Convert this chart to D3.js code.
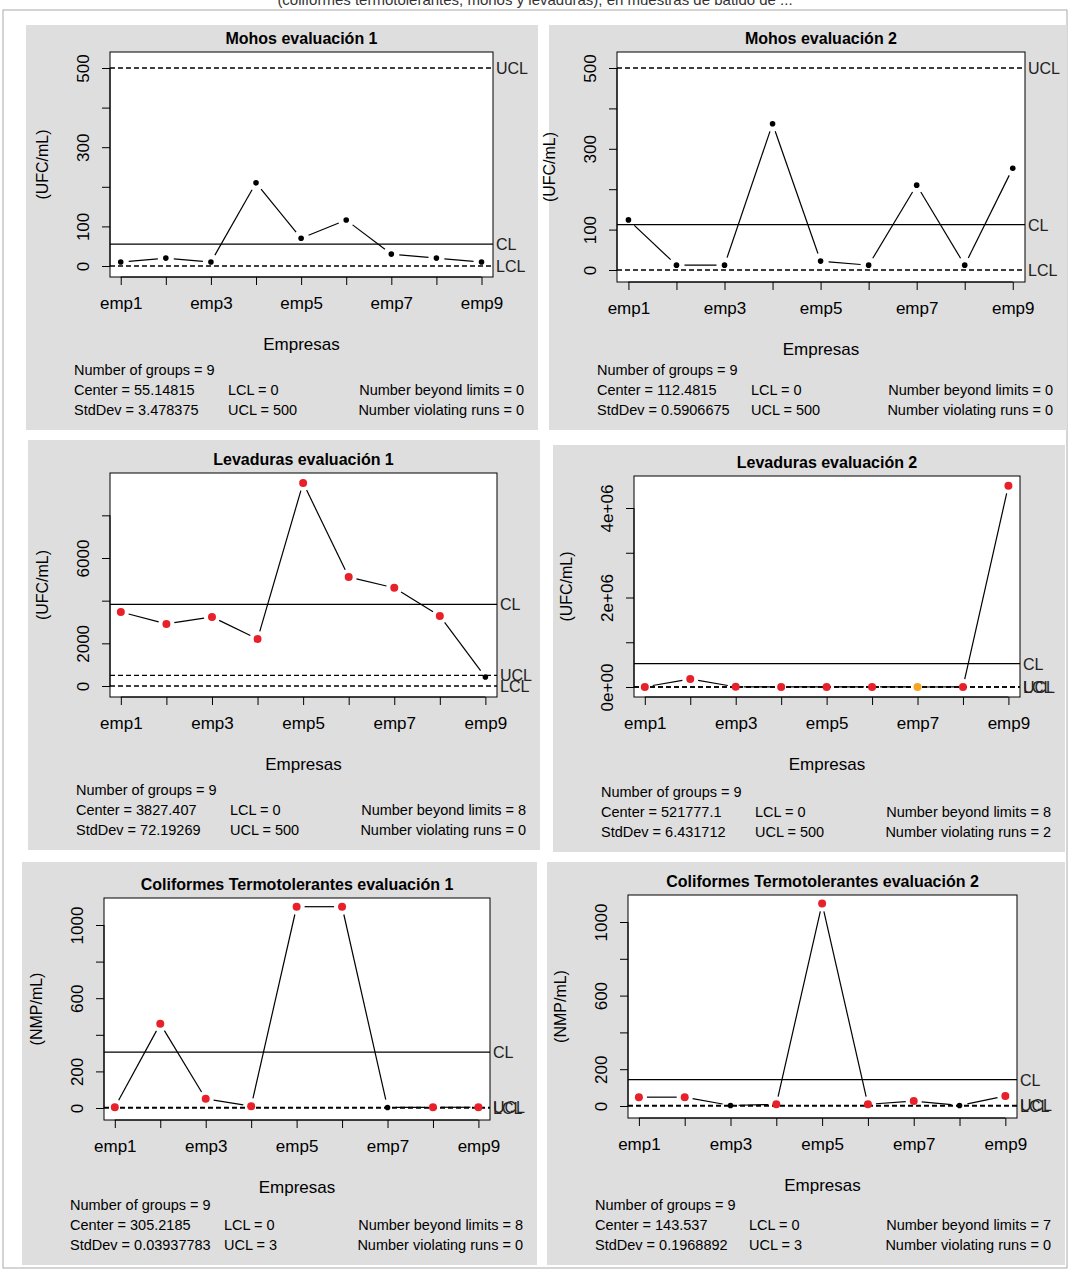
<!DOCTYPE html>
<html><head><meta charset="utf-8">
<script src="https://cdn.jsdelivr.net/npm/d3@7"></script>
<style>body{margin:0;background:#fff;font-family:"Liberation Sans",Arial,sans-serif}</style>
</head><body>
<svg id="c" width="1071" height="1271"></svg>
<script>
// data
const empresas = ["emp1","emp2","emp3","emp4","emp5","emp6","emp7","emp8","emp9"];
const titles = ["Mohos evaluación 1","Mohos evaluación 2","Levaduras evaluación 1","Levaduras evaluación 2",
  "Coliformes Termotolerantes evaluación 1","Coliformes Termotolerantes evaluación 2"];
const yLabels = ["(UFC/mL)","(UFC/mL)","(UFC/mL)","(UFC/mL)","(NMP/mL)","(NMP/mL)"];
const mohos1 = [10,20,10,210,70,116,30,20,10];
const mohos2 = [124,12,12,362,22,12,210,12,252];
const lev1 = [3470,2910,3240,2200,9520,5110,4600,3280,420];
const lev2 = [2000,180000,3000,1500,2500,1800,300,1200,4500000];
const coli1 = [4,460,50,10,1100,1100,3,4,4];
const coli2 = [48,48,3,9,1100,9,27,3,54];
const centers = [55.14815,112.4815,3827.407,521777.1,305.2185,143.537];
const stddevs = ["3.478375","0.5906675","72.19269","6.431712","0.03937783","0.1968892"];
const centerText = ["55.14815","112.4815","3827.407","521777.1","305.2185","143.537"];
const lcls = [0,0,0,0,0,0];
const ucls = [500,500,500,500,3,3];
const beyond = [0,0,8,8,8,7];
const violating = [0,0,0,2,0,0];
const runPoints = [[],[],[],[6],[],[]];
const tickVals = [[0,100,200,300,400,500],[0,100,200,300,400,500],[0,2000,4000,6000,8000],
  [0,1e6,2e6,3e6,4e6],[0,200,400,600,800,1000],[0,200,400,600,800,1000]];
const tickShown = [[0,100,300,500],[0,100,300,500],[0,2000,6000],[0,2e6,4e6],[0,200,600,1000],[0,200,600,1000]];
const series = [mohos1,mohos2,lev1,lev2,coli1,coli2];

// layout: panel rect, plot box, and pixel anchors of two y values
const layout = [
  {px:26,py:25,pw:512,ph:405,bx:110,by:52,bw:383,bh:225,v:[0,500],yp:[266,68]},
  {px:549,py:25,pw:518,ph:405,bx:617,by:52,bw:408,bh:230,v:[0,500],yp:[270,68]},
  {px:28,py:440,pw:512,ph:410,bx:110,by:473,bw:387,bh:224,v:[0,6000],yp:[686,558]},
  {px:553,py:445,pw:512,ph:407,bx:634,by:476,bw:386,bh:221,v:[0,4e6],yp:[687,508]},
  {px:22,py:862,pw:515,ph:403,bx:104,by:898,bw:386,bh:222,v:[0,1000],yp:[1108,925]},
  {px:547,py:862,pw:518,ph:403,bx:628,by:895,bw:389,bh:223,v:[0,1000],yp:[1106,922]}
];

const svg = d3.select("#c");
svg.append("rect").attr("x",3).attr("y",10).attr("width",1064).attr("height",1258)
  .attr("fill","#fff").attr("stroke","#aaa");
svg.append("text").attr("x",535).attr("y",5).attr("text-anchor","middle").attr("font-size",15)
  .attr("fill","#333").text("(coliformes termotolerantes, mohos y levaduras), en muestras de batido de ...");

layout.forEach((L,i) => {
  const g = svg.append("g");
  g.append("rect").attr("x",L.px).attr("y",L.py).attr("width",L.pw).attr("height",L.ph).attr("fill","#dedede");
  g.append("rect").attr("x",L.bx).attr("y",L.by).attr("width",L.bw).attr("height",L.bh).attr("fill","#fff");
  const cx = L.bx + L.bw/2;
  g.append("text").attr("x",cx).attr("y",L.by-8).attr("text-anchor","middle")
    .attr("font-weight","bold").attr("font-size",16).text(titles[i]);

  const x = d3.scalePoint().domain(empresas).range([L.bx+L.bw*0.028, L.bx+L.bw*0.97]);
  const y = d3.scaleLinear().domain(L.v).range(L.yp);

  // x axis
  const xa = g.append("g").attr("transform",`translate(0,${L.by+L.bh})`)
    .call(d3.axisBottom(x).tickSize(8).tickPadding(12).tickFormat((d,j)=> j%2===0? d : ""));
  xa.select(".domain").attr("d",`M${x("emp1")},0H${x("emp9")}`);
  xa.selectAll("text").attr("font-size",17).attr("font-family","Liberation Sans, Arial");
  // y axis
  const fmt = i===3 ? (d => d===0?"0e+00":d3.format(".0e")(d).replace("e+","e+0")) : d3.format("d");
  const ya = g.append("g").attr("transform",`translate(${L.bx},0)`)
    .call(d3.axisLeft(y).tickValues(tickVals[i]).tickSize(8).tickPadding(4)
      .tickFormat(d => tickShown[i].includes(d) ? fmt(d) : ""));
  ya.select(".domain").attr("d",`M0,${y(tickVals[i][0])}V${y(tickVals[i][tickVals[i].length-1])}`);
  ya.selectAll(".tick text").attr("font-size",17).attr("font-family","Liberation Sans, Arial")
    .attr("text-anchor","middle").attr("x",0).attr("dy","0.35em")
    .attr("transform","translate(-27,0) rotate(-90)");

  g.append("rect").attr("x",L.bx).attr("y",L.by).attr("width",L.bw).attr("height",L.bh)
    .attr("fill","none").attr("stroke","#000");

  g.append("text").attr("transform",`translate(${L.bx-62},${L.by+L.bh/2}) rotate(-90)`)
    .attr("text-anchor","middle").attr("font-size",16).text(yLabels[i]);
  g.append("text").attr("x",cx).attr("y",L.by+L.bh+73).attr("text-anchor","middle")
    .attr("font-size",17).text("Empresas");

  // control lines
  const lines = [{v:ucls[i],lab:"UCL",dash:"5,3"},{v:lcls[i],lab:"LCL",dash:"5,3"},{v:centers[i],lab:"CL",dash:null}];
  lines.forEach(l => {
    g.append("line").attr("x1",L.bx).attr("x2",L.bx+L.bw).attr("y1",y(l.v)).attr("y2",y(l.v))
      .attr("stroke","#000").attr("stroke-width",1.3).attr("stroke-dasharray",l.dash);
    g.append("text").attr("x",L.bx+L.bw+3).attr("y",y(l.v)+6).attr("font-size",16).attr("fill","#222").text(l.lab);
  });

  // points with gaps (type "b")
  const d = series[i];
  for (let j=0;j<d.length-1;j++){
    const x1=x(empresas[j]), y1=y(d[j]), x2=x(empresas[j+1]), y2=y(d[j+1]);
    const len=Math.hypot(x2-x1,y2-y1), gap=8;
    if (len>2*gap+2){
      const ux=(x2-x1)/len, uy=(y2-y1)/len;
      g.append("line").attr("x1",x1+ux*gap).attr("y1",y1+uy*gap).attr("x2",x2-ux*gap).attr("y2",y2-uy*gap)
        .attr("stroke","#000").attr("stroke-width",1.2);
    }
  }
  g.selectAll(".pt").data(d).enter().append("circle")
    .attr("cx",(v,j)=>x(empresas[j])).attr("cy",v=>y(v))
    .attr("r",(v,j)=> (v>ucls[i]||v<lcls[i]||runPoints[i].includes(j)) ? 4 : 2.8)
    .attr("fill",(v,j)=> (v>ucls[i]||v<lcls[i]) ? "#e8202a" : runPoints[i].includes(j) ? "#f5a623" : "#000");

  // stats
  const sx = L.px+48, sx2 = L.px+202, sx3 = L.px+L.pw-14, sy = L.py+L.ph-55;
  const st = (t,xx,yy,anchor) => g.append("text").attr("x",xx).attr("y",yy).attr("font-size",14.5)
    .attr("text-anchor",anchor||"start").text(t);
  st("Number of groups = 9",sx,sy);
  st("Center = "+centerText[i],sx,sy+20); st("LCL = "+lcls[i],sx2,sy+20); st("Number beyond limits = "+beyond[i],sx3,sy+20,"end");
  st("StdDev = "+stddevs[i],sx,sy+40); st("UCL = "+ucls[i],sx2,sy+40); st("Number violating runs = "+violating[i],sx3,sy+40,"end");
});
</script>
</body></html>
